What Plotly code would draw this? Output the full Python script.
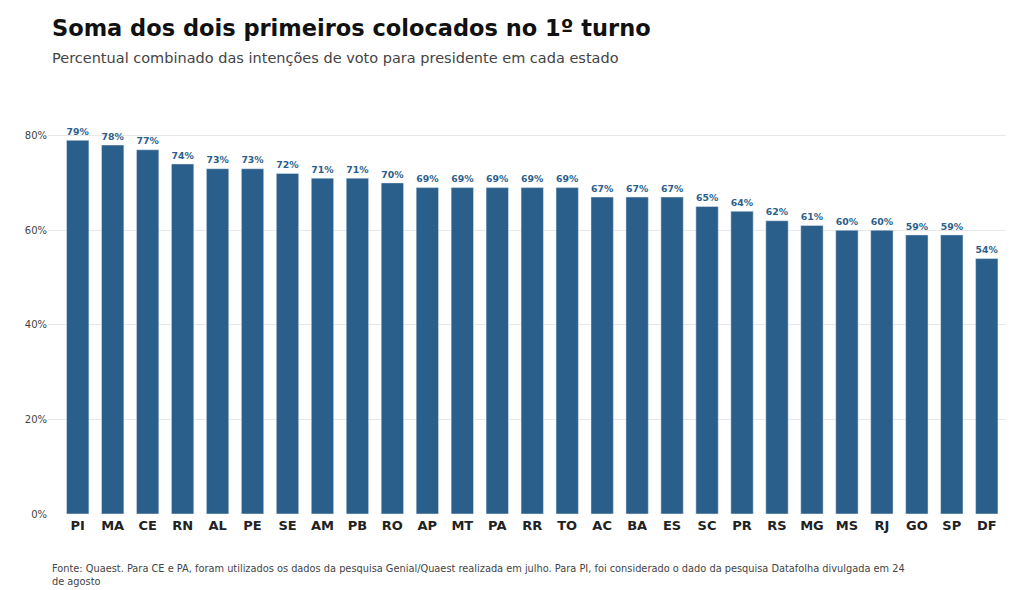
import plotly.graph_objects as go

estados = ["PI", "MA", "CE", "RN", "AL", "PE", "SE", "AM", "PB", "RO", "AP", "MT", "PA", "RR",
           "TO", "AC", "BA", "ES", "SC", "PR", "RS", "MG", "MS", "RJ", "GO", "SP", "DF"]
soma = [79, 78, 77, 74, 73, 73, 72, 71, 71, 70, 69, 69, 69, 69,
        69, 67, 67, 67, 65, 64, 62, 61, 60, 60, 59, 59, 54]
yticks = [0, 20, 40, 60, 80]

azul = "#2b5f8b"

fig = go.Figure(go.Bar(
    x=estados, y=soma,
    marker_color=azul,
    width=0.64,
    text=[f"{v}%" for v in soma],
    textposition="outside",
    cliponaxis=False,
    textfont=dict(color=azul, size=12, family="DejaVu Sans"),
    texttemplate="<b>%{text}</b>",
))

fig.update_layout(
    width=1024, height=590,
    margin=dict(l=40, r=26, t=85, b=84),
    plot_bgcolor="white", paper_bgcolor="white",
    font=dict(family="DejaVu Sans", color="#333"),
    showlegend=False,
    xaxis=dict(tickfont=dict(size=13, color="#222"), ticklabelstandoff=2,
               tickvals=estados, ticktext=[f"<b>{e}</b>" for e in estados],
               range=[-0.85, 26.55]),
    yaxis=dict(range=[0, 89], tickvals=yticks, ticktext=[f"{t}%" for t in yticks],
               tickfont=dict(size=10, color="#444"), gridcolor="#e8e8e8",
               zeroline=False, showline=False),
    annotations=[
        dict(text="<b>Soma dos dois primeiros colocados no 1º turno</b>", xref="paper", yref="paper",
             x=0, y=1.0, xshift=2, yshift=85 - 28 + 8, xanchor="left", yanchor="middle",
             showarrow=False, font=dict(size=22.5, color="#111")),
        dict(text="Percentual combinado das intenções de voto para presidente em cada estado",
             xref="paper", yref="paper", x=0, y=1.0, xshift=2, yshift=85 - 58 + 8, xanchor="left",
             yanchor="middle", showarrow=False, font=dict(size=14.5, color="#444")),
        dict(text="Fonte: Quaest. Para CE e PA, foram utilizados os dados da pesquisa Genial/Quaest realizada em julho. Para PI, foi considerado o dado da pesquisa Datafolha divulgada em 24<br>de agosto",
             xref="paper", yref="paper", x=0, y=0, xshift=2, yshift=-47, xanchor="left", yanchor="top",
             align="left", showarrow=False, font=dict(size=9.8, color="#444")),
    ],
)

fig.write_html("out.html")
